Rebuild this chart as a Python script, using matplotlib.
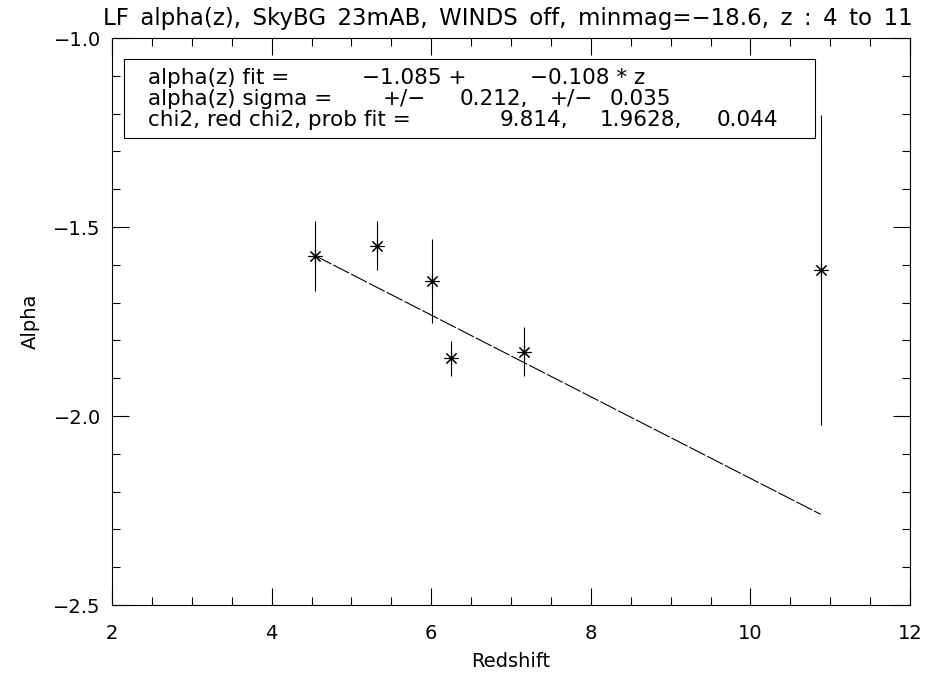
import numpy as np
import matplotlib
matplotlib.use("Agg")
import matplotlib.pyplot as plt
from matplotlib.ticker import MultipleLocator
from matplotlib.patches import Rectangle

# measured alpha(z) values with 1-sigma errors
redshift = [4.55, 5.32, 6.01, 6.25, 7.16, 10.88]
alpha = [-1.577, -1.549, -1.643, -1.847, -1.830, -1.615]
alpha_err = [0.093, 0.065, 0.111, 0.046, 0.065, 0.41]

# linear fit coefficients
fit_a = -1.085
fit_b = -0.108

# fit summary, split in the columns the IDL print used
fit_text = [
    [("alpha(z) fit =", 148), ("\u22121.085 +", 362), ("\u22120.108 * z", 530)],
    [("alpha(z) sigma =", 148), ("+/\u2212", 383), ("0.212,", 460), ("+/\u2212", 550), ("0.035", 610)],
    [("chi2, red chi2, prob fit =", 148), ("9.814,", 500), ("1.9628,", 600), ("0.044", 717)],
]
line_y = [78, 99, 120]

title = "LF alpha(z), SkyBG 23mAB, WINDS off, minmag=\u221218.6, z : 4 to 11".replace(" ", "\u2002")

plt.rcParams['font.family'] = ['DejaVu Sans']
fs = 14
W, H = 938, 677

fig = plt.figure(figsize=(9.38, 6.77), dpi=100)
ax = fig.add_axes([112/W, 1-605/H, (910-112)/W, (605-38)/H])

ax.errorbar(redshift, alpha, yerr=alpha_err, fmt='none', ecolor='black', elinewidth=0.8)
ax.plot(redshift, alpha, linestyle='none', marker=(8, 2, 0), ms=10, mec='black', mew=0.8)

zz = np.array([redshift[0], redshift[-1]])
ax.plot(zz, fit_a + fit_b*zz, color='black', lw=0.8, dashes=(16, 2))

ax.set_xlim(2, 12)
ax.set_ylim(-2.5, -1.0)
ax.xaxis.set_major_locator(MultipleLocator(2))
ax.xaxis.set_minor_locator(MultipleLocator(0.5))
ax.yaxis.set_major_locator(MultipleLocator(0.5))
ax.yaxis.set_minor_locator(MultipleLocator(0.1))
ax.tick_params(which='both', direction='in', top=True, right=True, width=0.8, labelsize=fs)
ax.tick_params(which='major', length=12)
ax.tick_params(which='minor', length=6)
ax.tick_params(axis='x', pad=14)
ax.tick_params(axis='y', pad=8)
for s in ax.spines.values():
    s.set_linewidth(0.8)

ax.set_xlabel("Redshift", fontsize=fs, labelpad=6)
ax.set_ylabel("Alpha", fontsize=fs, labelpad=10)

fig.text(508/W, 1-18/H, title, fontsize=16.5, ha='center', va='center')

# fit results box
fig.patches.append(Rectangle((124/W, 1-138/H), (815-124)/W, (138-59)/H,
                             transform=fig.transFigure, fc='white', ec='black', lw=0.8, zorder=3))
for row, yy in zip(fit_text, line_y):
    for txt, xx in row:
        fig.text(xx/W, 1-yy/H, txt, fontsize=15.5, ha='left', va='center', zorder=4)

fig.savefig("out.png", dpi=100)
